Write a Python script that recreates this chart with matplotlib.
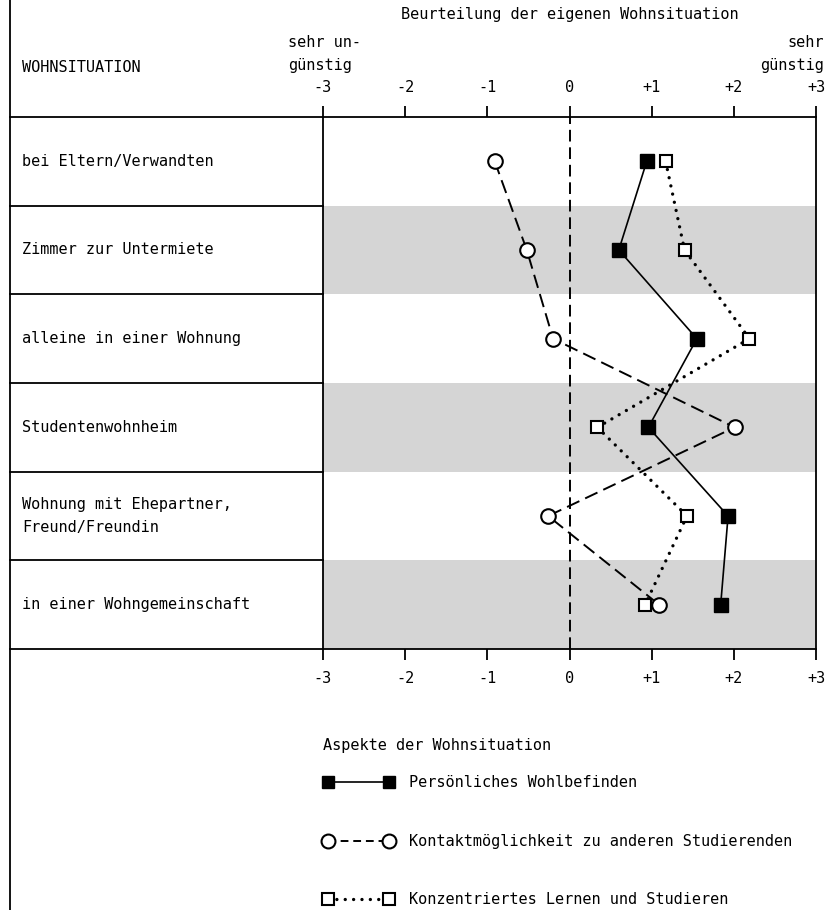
import matplotlib as mpl
import matplotlib.pyplot as plt
from matplotlib.lines import Line2D
from matplotlib.transforms import blended_transform_factory

mpl.rcParams["font.family"] = "DejaVu Sans Mono"
mpl.rcParams["font.size"] = 11

# Data
situations = ["bei Eltern/Verwandten", "Zimmer zur Untermiete", "alleine in einer Wohnung",
              "Studentenwohnheim", "Wohnung mit Ehepartner,\nFreund/Freundin",
              "in einer Wohngemeinschaft"]
wohlbefinden = [0.94, 0.60, 1.55, 0.96, 1.93, 1.84]
kontakt = [-0.91, -0.52, -0.20, 2.01, -0.26, 1.09]
lernen = [1.17, 1.40, 2.19, 0.34, 1.43, 0.92]
tick_vals = [-3, -2, -1, 0, 1, 2, 3]
tick_labels = ["-3", "-2", "-1", "0", "+1", "+2", "+3"]
series_names = ["Persönliches Wohlbefinden", "Kontaktmöglichkeit zu anderen Studierenden",
                "Konzentriertes Lernen und Studieren"]

W, H = 826, 910
fig = plt.figure(figsize=(W / 100, H / 100), dpi=100)

# overlay in pixel units for the table frame and free text
bg = fig.add_axes([0, 0, 1, 1], zorder=0)
bg.set_xlim(0, W)
bg.set_ylim(H, 0)
bg.axis("off")

x0, x1, y0, y1 = 323, 816, 117, 649
ax = fig.add_axes([x0 / W, 1 - y1 / H, (x1 - x0) / W, (y1 - y0) / H], zorder=1)
ax.patch.set_alpha(0)

n = len(situations)
ypos = list(range(n))
ax.set_xlim(-3, 3)
ax.set_ylim(n - 0.5, -0.5)

# shaded rows
for i in ypos:
    if i % 2 == 1:
        ax.axhspan(i - 0.5, i + 0.5, color="#d5d5d5", lw=0, zorder=0)

ax.axvline(0, color="black", lw=1.4, ls=(0, (6, 3)), zorder=1)

ax.plot(wohlbefinden, ypos, color="black", lw=1.2, marker="s", ms=9.5,
        mfc="black", mec="black", zorder=3)
ax.plot(kontakt, ypos, color="black", lw=1.4, ls=(0, (7, 3.3)), marker="o", ms=10.5,
        mfc="white", mec="black", mew=1.5, zorder=3)
ax.plot(lernen, ypos, color="black", lw=2.4, ls=(0, (0.01, 2.5)), dash_capstyle="round",
        marker="s", ms=9, mfc="white", mec="black", mew=1.5, zorder=3)

ax.set_xticks(tick_vals)
ax.set_xticklabels(tick_labels)
ax.set_yticks([])
ax.tick_params(axis="x", top=True, labeltop=True, direction="out", length=8,
               width=1.3, pad=8, labelsize=11)
for s in ax.spines.values():
    s.set_linewidth(1.3)

# table on the left
tr = blended_transform_factory(bg.transData, ax.transData)
bg.plot([10, 10], [0, H], color="black", lw=1.3)
for b in range(n + 1):
    ax.plot([10, x0], [b - 0.5, b - 0.5], color="black", lw=1.3, transform=tr,
            clip_on=False)
for i, lab in enumerate(situations):
    ax.text(22, i, lab, transform=tr, ha="left", va="center", linespacing=1.6)

# header texts
bg.text(22, 68, "WOHNSITUATION", ha="left", va="center")
bg.text(570, 15, "Beurteilung der eigenen Wohnsituation", ha="center", va="center")
bg.text(288, 54, "sehr un-\ngünstig", ha="left", va="center", linespacing=1.6)
bg.text(824, 54, "sehr\ngünstig", ha="right", va="center", linespacing=1.6,
        multialignment="right")

# legend
handles = [
    Line2D([], [], color="black", lw=1.2, marker="s", ms=9, mfc="black"),
    Line2D([], [], color="black", lw=1.4, ls=(0, (4, 2.5)), marker="o", ms=10,
           mfc="white", mew=1.5),
    Line2D([], [], color="black", lw=2.4, ls=(0, (0.01, 2.5)), dash_capstyle="round",
           marker="s", ms=9, mfc="white", mew=1.5),
]
leg = fig.legend(handles, series_names, title="Aspekte der Wohnsituation",
                 loc="upper left", bbox_to_anchor=(317 / W, 1 - 732 / H),
                 frameon=False, numpoints=2, handlelength=4.6, handletextpad=1.0,
                 labelspacing=2.85, alignment="left", fontsize=11,
                 title_fontsize=11, borderaxespad=0)
leg._legend_box.sep = 16

fig.savefig("out.png", dpi=100)
